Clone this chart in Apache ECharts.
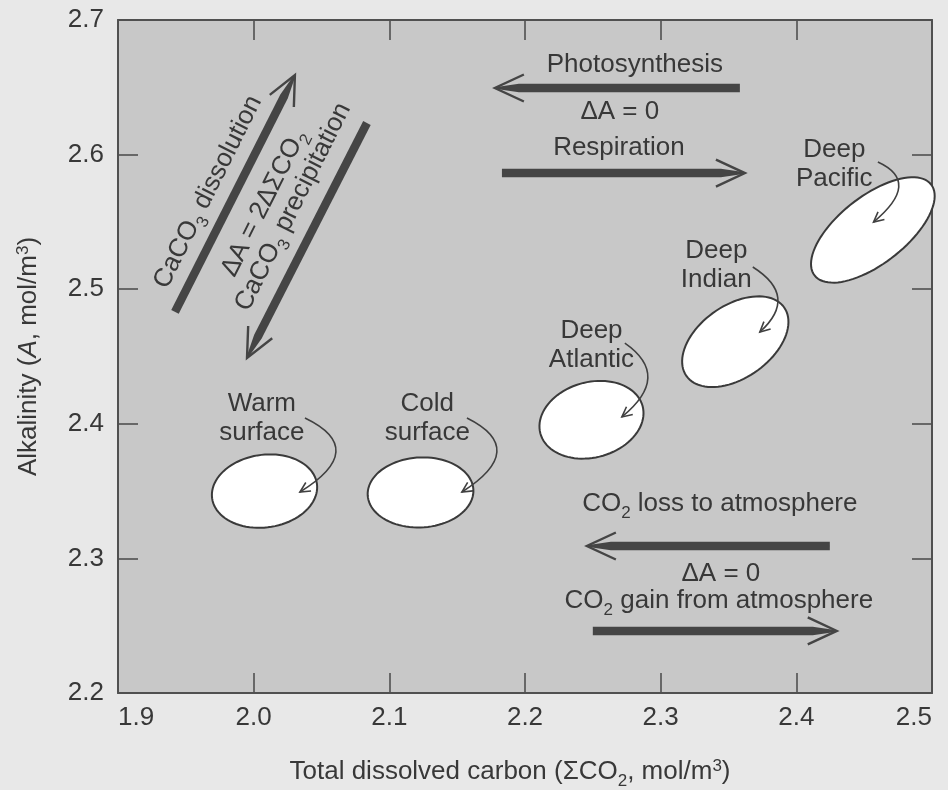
<!DOCTYPE html>
<html>
<head>
<meta charset="utf-8">
<script src="https://cdn.jsdelivr.net/npm/echarts@6/dist/echarts.min.js"></script>
<style>
html,body{margin:0;padding:0;background:#e8e8e8;}
#chart{width:948px;height:790px;}
</style>
</head>
<body>
<div id="chart"></div>
<script>
// ---------------- data ----------------
const xMin = 1.9, xMax = 2.5, xStep = 0.1;
const yMin = 2.2, yMax = 2.7, yStep = 0.1;

// water-mass regions (centre and half-spread in ΣCO2 / alkalinity)
const waterMassNames = ['Warm surface', 'Cold surface', 'Deep Atlantic', 'Deep Indian', 'Deep Pacific'];
const waterMassDIC = [2.008, 2.123, 2.249, 2.355, 2.4564];
const waterMassAlk = [2.350, 2.349, 2.403, 2.461, 2.544];
const waterMassDICSpread = [0.039, 0.039, 0.039, 0.044, 0.0545];
const waterMassAlkSpread = [0.027, 0.026, 0.028, 0.027, 0.025];
const waterMassLabelDIC = [2.006, 2.128, 2.249, 2.341, 2.428];
const waterMassLabelAlk = [2.404, 2.404, 2.4585, 2.518, 2.593];

// curved pointers from label to region: start, bend, end
const pointerStart = [[2.0378, 2.4043], [2.1572, 2.4043], [2.2736, 2.4600], [2.3679, 2.5165], [2.4601, 2.5945]];
const pointerBend  = [[2.0853, 2.3813], [2.2032, 2.3813], [2.3086, 2.4355], [2.4022, 2.4946], [2.4925, 2.5796]];
const pointerEnd   = [[2.0341, 2.3493], [2.1535, 2.3493], [2.2714, 2.4051], [2.3731, 2.4682], [2.4569, 2.5499]];

// process vectors: tail -> head
const processNames = ['Photosynthesis', 'Respiration', 'CaCO3 dissolution', 'CaCO3 precipitation', 'CO2 loss to atmosphere', 'CO2 gain from atmosphere'];
const processTail = [[2.3584, 2.6495], [2.1830, 2.5863], [1.9420, 2.4831], [2.0835, 2.6235], [2.4247, 2.3092], [2.2500, 2.2461]];
const processHead = [[2.1778, 2.6495], [2.3621, 2.5863], [2.0304, 2.6591], [1.9951, 2.4489], [2.2456, 2.3092], [2.4298, 2.2461]];

// annotation texts and anchors
const noteTexts = ['Photosynthesis', 'ΔA = 0', 'Respiration',
  'CO{sub|2} loss to atmosphere', 'ΔA = 0', 'CO{sub|2} gain from atmosphere',
  'CaCO{sub|3} dissolution', 'ΔA = 2ΔΣCO{sub|2}', 'CaCO{sub|3} precipitation'];
const noteDIC = [2.2810, 2.2699, 2.2692, 2.3436, 2.3444, 2.3429, 1.9663, 2.0076, 2.0290];
const noteAlk = [2.6666, 2.6317, 2.6049, 2.3404, 2.2884, 2.2683, 2.5722, 2.5640, 2.5611];

// ---------------- styles ----------------
const FONT = "'Liberation Sans', Arial, sans-serif";
const TXT = '#383838';
const INK = '#454545';
const FS = 26;
const blobTiltDeg = [-8, -3, -15, -35, -38];
const noteRotDeg = [0, 0, 0, 0, 0, 0, 63.4, 63.4, 63.4];

function richModel() {
  return {
    sub: {fontFamily: FONT, fontSize: 17, color: TXT, verticalAlign: 'top', padding: [16, 0, 0, 0], lineHeight: 30},
    sup: {fontFamily: FONT, fontSize: 17, color: TXT, verticalAlign: 'top', padding: [1, 0, 0, 0], lineHeight: 30},
    it: {fontFamily: FONT, fontSize: FS, color: TXT, fontStyle: 'italic', lineHeight: 30}
  };
}
function richZr() {
  return {
    sub: {fontFamily: FONT, fontSize: 17, fill: TXT, verticalAlign: 'top', padding: [16, 0, 0, 0], lineHeight: 30}
  };
}

// ---------------- renderers ----------------
function renderBlob(params, api) {
  const c = api.coord([api.value(0), api.value(1)]);
  const s = api.size([api.value(2), api.value(3)], [api.value(0), api.value(1)]);
  const th = blobTiltDeg[params.dataIndex] * Math.PI / 180;
  const pts = [];
  for (let i = 0; i < 90; i++) {
    const f = i / 90 * Math.PI * 2;
    const ex = s[0] * Math.cos(f), ey = s[1] * Math.sin(f);
    pts.push([c[0] + ex * Math.cos(th) - ey * Math.sin(th), c[1] + ex * Math.sin(th) + ey * Math.cos(th)]);
  }
  return {type: 'polygon', shape: {points: pts}, style: {fill: '#ffffff', stroke: '#3a3a3a', lineWidth: 2}};
}

function renderArrow(params, api) {
  const t = api.coord([api.value(0), api.value(1)]);
  const h = api.coord([api.value(2), api.value(3)]);
  const dx = h[0] - t[0], dy = h[1] - t[1];
  const L = Math.hypot(dx, dy);
  const ux = dx / L, uy = dy / L, nx = -uy, ny = ux;
  const w = 4.2, taper = 24;
  const bx = h[0] - ux * taper, by = h[1] - uy * taper;
  const shaft = [
    [t[0] + nx * w, t[1] + ny * w], [bx + nx * w, by + ny * w], [h[0] + nx * 0.8, h[1] + ny * 0.8],
    [h[0] - nx * 0.8, h[1] - ny * 0.8], [bx - nx * w, by - ny * w], [t[0] - nx * w, t[1] - ny * w]
  ];
  const bl = 29, bw = 13.5;
  const b1 = [h[0] - ux * bl + nx * bw, h[1] - uy * bl + ny * bw];
  const b2 = [h[0] - ux * bl - nx * bw, h[1] - uy * bl - ny * bw];
  return {type: 'group', children: [
    {type: 'polygon', shape: {points: shaft}, style: {fill: INK}},
    {type: 'polyline', shape: {points: [b1, h, b2]}, style: {stroke: INK, lineWidth: 2.4, fill: null}}
  ]};
}

function renderPointer(params, api) {
  const p0 = api.coord([api.value(0), api.value(1)]);
  const c = api.coord([api.value(2), api.value(3)]);
  const p1 = api.coord([api.value(4), api.value(5)]);
  const dx = p1[0] - c[0], dy = p1[1] - c[1];
  const L = Math.hypot(dx, dy);
  const ux = dx / L, uy = dy / L, nx = -uy, ny = ux;
  const hl = 10, hw = 5;
  const a1 = [p1[0] - ux * hl + nx * hw, p1[1] - uy * hl + ny * hw];
  const a2 = [p1[0] - ux * hl - nx * hw, p1[1] - uy * hl - ny * hw];
  return {type: 'group', children: [
    {type: 'bezierCurve', shape: {x1: p0[0], y1: p0[1], x2: p1[0], y2: p1[1], cpx1: c[0], cpy1: c[1]},
      style: {stroke: '#404040', lineWidth: 1.6, fill: null}},
    {type: 'polyline', shape: {points: [a1, p1, a2]}, style: {stroke: '#404040', lineWidth: 1.6, fill: null}}
  ]};
}

function renderWaterLabel(params, api) {
  const p = api.coord([api.value(0), api.value(1)]);
  return {type: 'text', x: p[0], y: p[1], style: {
    text: waterMassNames[params.dataIndex].replace(' ', '\n'),
    fontFamily: FONT, fontSize: FS, fill: TXT, align: 'center', verticalAlign: 'middle', lineHeight: 29
  }};
}

function renderNote(params, api) {
  const p = api.coord([api.value(0), api.value(1)]);
  const i = params.dataIndex;
  return {type: 'text', x: p[0], y: p[1], rotation: noteRotDeg[i] * Math.PI / 180, style: {
    text: noteTexts[i], fontFamily: FONT, fontSize: FS, fill: TXT,
    align: 'center', verticalAlign: 'middle', lineHeight: 30, rich: richZr()
  }};
}

// ---------------- build data tables ----------------
const blobData = waterMassDIC.map((x, i) => [x, waterMassAlk[i], waterMassDICSpread[i], waterMassAlkSpread[i]]);
const waterLabelData = waterMassLabelDIC.map((x, i) => [x, waterMassLabelAlk[i]]);
const pointerData = pointerStart.map((s, i) => [s[0], s[1], pointerBend[i][0], pointerBend[i][1], pointerEnd[i][0], pointerEnd[i][1]]);
const arrowData = processTail.map((t, i) => [t[0], t[1], processHead[i][0], processHead[i][1]]);
const noteData = noteDIC.map((x, i) => [x, noteAlk[i]]);

const axisLine = {show: true, onZero: false, lineStyle: {color: '#505050', width: 2}};
const axisTick = {show: true, inside: true, length: 20, lineStyle: {color: '#505050', width: 1.6}};

const chart = echarts.init(document.getElementById('chart'), null, {renderer: 'canvas'});
chart.setOption({
  animation: false,
  backgroundColor: '#e8e8e8',
  grid: {left: 118, right: 16, top: 20, bottom: 97, show: true, backgroundColor: '#c8c8c8', borderWidth: 0,
    containLabel: false, outerBoundsMode: 'none'},
  xAxis: [{
    type: 'value', min: xMin, max: xMax, interval: xStep, position: 'bottom',
    axisLine: axisLine, axisTick: axisTick, splitLine: {show: false},
    axisLabel: {fontFamily: FONT, fontSize: FS, color: TXT, margin: 12,
      formatter: v => v.toFixed(1), showMinLabel: true, showMaxLabel: true, alignMinLabel: 'left', alignMaxLabel: 'right'},
    name: 'Total dissolved carbon (ΣCO{sub|2}, mol/m{sup|3})', nameLocation: 'middle', nameGap: 64,
    nameTextStyle: {fontFamily: FONT, fontSize: FS, color: TXT, lineHeight: 30, padding: [0, 30, 0, 0], rich: richModel()}
  }, {
    type: 'value', min: xMin, max: xMax, interval: xStep, position: 'top',
    axisLine: axisLine, axisTick: axisTick, splitLine: {show: false}, axisLabel: {show: false}
  }],
  yAxis: [{
    type: 'value', min: yMin, max: yMax, interval: yStep, position: 'left',
    axisLine: axisLine, axisTick: axisTick, splitLine: {show: false},
    axisLabel: {fontFamily: FONT, fontSize: FS, color: TXT, margin: 14, formatter: v => v.toFixed(1)},
    name: 'Alkalinity ({it|A}, mol/m{sup|3})', nameLocation: 'middle', nameGap: 74, nameRotate: 90,
    nameTextStyle: {fontFamily: FONT, fontSize: FS, color: TXT, lineHeight: 30, rich: richModel()}
  }, {
    type: 'value', min: yMin, max: yMax, interval: yStep, position: 'right',
    axisLine: axisLine, axisTick: axisTick, splitLine: {show: false}, axisLabel: {show: false}
  }],
  series: [
    {type: 'custom', name: 'regions', coordinateSystem: 'cartesian2d', renderItem: renderBlob, data: blobData, silent: true, z: 2},
    {type: 'custom', name: 'processes', coordinateSystem: 'cartesian2d', renderItem: renderArrow, data: arrowData, silent: true, z: 3},
    {type: 'custom', name: 'pointers', coordinateSystem: 'cartesian2d', renderItem: renderPointer, data: pointerData, silent: true, z: 4},
    {type: 'custom', name: 'regionLabels', coordinateSystem: 'cartesian2d', renderItem: renderWaterLabel, data: waterLabelData, silent: true, z: 5},
    {type: 'custom', name: 'notes', coordinateSystem: 'cartesian2d', renderItem: renderNote, data: noteData, silent: true, z: 5}
  ]
});
</script>
</body>
</html>
